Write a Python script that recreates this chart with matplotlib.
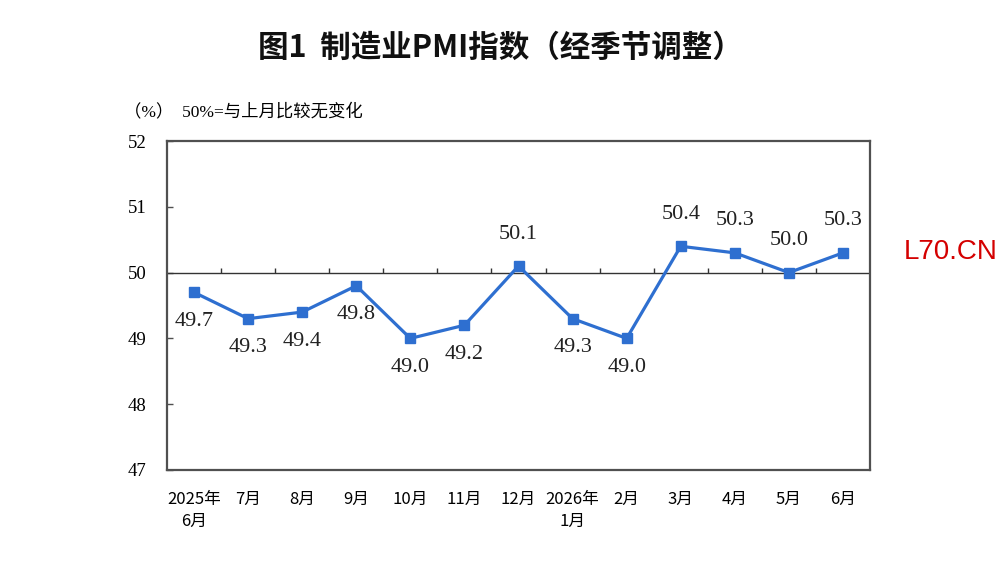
import matplotlib
matplotlib.use('Agg')
import matplotlib.pyplot as plt
import numpy as np

plt.rcParams['font.family'] = ['Noto Sans CJK SC', 'DejaVu Sans']

# data
months = ['2025年\n6月', '7月', '8月', '9月', '10月', '11月', '12月',
          '2026年\n1月', '2月', '3月', '4月', '5月', '6月']
pmi = [49.7, 49.3, 49.4, 49.8, 49.0, 49.2, 50.1, 49.3, 49.0, 50.4, 50.3, 50.0, 50.3]
label_above = [False, False, False, False, False, False, True,
               False, False, True, True, True, True]
yticks = [47, 48, 49, 50, 51, 52]

blue = '#2e6fd0'
spine = '#505050'

fig = plt.figure(figsize=(10.01, 5.64), dpi=100)
ax = fig.add_axes([167/1001, 1-470/564, 703/1001, 329/564])

x = np.arange(len(pmi)) + 0.5
ax.plot(x, pmi, color=blue, lw=2.3, marker='s', ms=6.5, zorder=3)

# 50 reference line with category separators
ax.axhline(50, color='#333333', lw=1.0, zorder=2)
ax.vlines(np.arange(1, len(pmi)), 50, 50.075, color='#333333', lw=1.0)

for xi, v, up in zip(x, pmi, label_above):
    ax.annotate(f'{v:.1f}', (xi, v), xytext=(0, 32 if up else -29),
                textcoords='offset pixels',
                ha='center', va='center', fontsize=16,
                family='Liberation Serif', color='#222222')

ax.set_xlim(0, len(pmi))
ax.set_ylim(47, 52)
ax.set_yticks(yticks)
ax.set_yticklabels([str(t) for t in yticks], family='Liberation Serif', fontsize=13.5)
ax.tick_params(axis='y', direction='in', length=4, width=1, color=spine, pad=15)
ax.set_xticks(x)
ax.set_xticklabels(months, fontsize=12, linespacing=1.4)
ax.tick_params(axis='x', length=0, pad=15)

for s in ax.spines.values():
    s.set_color(spine)
    s.set_linewidth(1.6)

fig.text(0.5, 1-48/564, '图1  制造业PMI指数（经季节调整）', ha='center', va='center',
         fontsize=22, fontweight='bold', color='#111111')
fig.text(124/1001, 1-112/564, '（%）  50%=与上月比较无变化', ha='left', va='center',
         fontsize=12.5, family=['Liberation Serif', 'Noto Sans CJK SC'])
fig.text(951/1001, 1-252/564, 'L70.CN', ha='center', va='center',
         fontsize=20, color='#d40000', family='Liberation Sans')

fig.savefig('out.png', dpi=100)
